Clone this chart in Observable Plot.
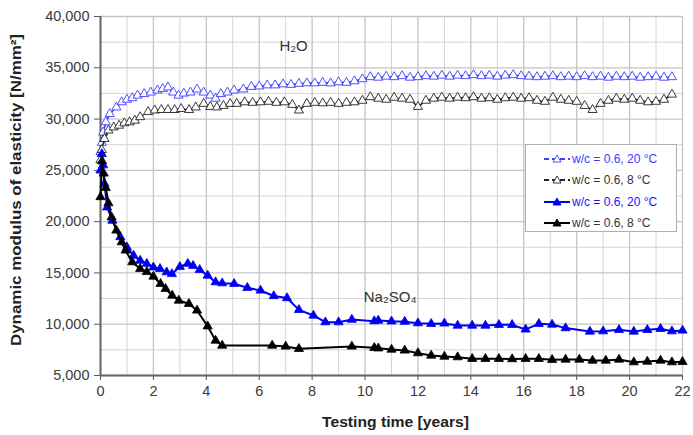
<!DOCTYPE html>
<html><head><meta charset="utf-8">
<script src="https://cdn.jsdelivr.net/npm/d3@7"></script>
<script src="https://cdn.jsdelivr.net/npm/@observablehq/plot@0.6"></script>
<style>
body{margin:0;background:#fff;font-family:"Liberation Sans",Arial,sans-serif;}
#wrap{position:relative;width:693px;height:435px;}
#legend{position:absolute;left:525px;top:144px;width:152px;height:88px;border:1px solid #b0b0b0;background:#fff;box-sizing:border-box;font-size:12px;padding-top:3px;}
.row{display:flex;align-items:center;height:21.5px;padding-left:17px;white-space:nowrap;}
.row svg{margin-right:1px;}
g[aria-label="x-axis label"] text, g[aria-label="y-axis label"] text{font-weight:bold;fill:#222;font-size:14px !important;}
</style></head>
<body><div id="wrap"></div>
<script>
// ---- data ----
const xTicks = [0,2,4,6,8,10,12,14,16,18,20,22];
const xMinor = [1,3,5,7,9,11,13,15,17,19,21];
const yTicks = [5000,10000,15000,20000,25000,30000,35000,40000];
const yMinor = [7500,12500,17500,22500,27500,32500,37500];

const seriesNames = ["H2O w/c = 0.6, 20 °C","H2O w/c = 0.6, 8 °C","Na2SO4 w/c = 0.6, 20 °C","Na2SO4 w/c = 0.6, 8 °C"];
const legendLabels = ["w/c = 0.6, 20 °C","w/c = 0.6, 8 °C","w/c = 0.6, 20 °C","w/c = 0.6, 8 °C"];

const h2o20_t = [0,0.05,0.1,0.2,0.35,0.6,0.8,1.0,1.2,1.4,1.65,1.9,2.15,2.35,2.55,2.75,2.95,3.15,3.4,3.65,3.9,4.15,4.35,4.55,4.8,5.05,5.4,5.7,6.0,6.3,6.6,6.9,7.2,7.5,7.8,8.1,8.4,8.7,9.0,9.3,9.6,9.9,10.2,10.5,10.8,11.1,11.4,11.7,12.0,12.3,12.6,12.9,13.2,13.5,13.8,14.1,14.4,14.7,15.0,15.3,15.6,15.9,16.2,16.5,16.8,17.1,17.4,17.7,18.0,18.3,18.6,18.9,19.2,19.5,19.8,20.1,20.4,20.7,21.0,21.3,21.6];
const h2o20_v = [26800,27700,28700,29700,30500,31150,31650,31900,32050,32300,32450,32600,32800,32950,33100,32600,32300,32500,32600,32900,32600,32300,32000,32450,32600,32800,32900,33150,33200,33300,33300,33400,33350,33450,33500,33500,33550,33500,33600,33550,33700,33900,34100,34050,34150,34100,34200,34050,34100,34200,34150,34250,34150,34250,34200,34300,34200,34250,34150,34250,34300,34200,34150,34100,34150,34200,34100,34150,34100,34200,34100,34150,34050,34150,34100,34150,34050,34100,34150,34050,34100];

const h2o8_t = [0,0.05,0.15,0.3,0.5,0.7,0.9,1.1,1.3,1.5,1.8,2.05,2.3,2.55,2.8,3.05,3.35,3.6,3.9,4.15,4.4,4.65,4.9,5.15,5.45,5.75,6.05,6.35,6.65,6.95,7.25,7.5,7.8,8.1,8.4,8.7,9.0,9.3,9.6,9.9,10.2,10.5,10.8,11.1,11.4,11.7,12.0,12.3,12.6,12.9,13.2,13.5,13.8,14.1,14.4,14.7,15.0,15.3,15.6,15.9,16.2,16.5,16.8,17.1,17.4,17.7,18.0,18.3,18.6,18.9,19.2,19.5,19.8,20.1,20.4,20.7,21.0,21.3,21.6];
const h2o8_v = [26000,27000,28070,28900,29200,29370,29600,29700,29860,30200,30700,30850,30900,30900,30900,31000,30900,31150,31500,31200,31150,31300,31500,31500,31650,31600,31650,31700,31600,31650,31400,30850,31500,31600,31550,31600,31500,31600,31650,31800,32150,32000,31900,32100,32000,31900,31200,31800,32000,32100,32000,32100,32050,32150,32000,32050,31900,32050,32100,32000,32050,31800,31700,32100,31900,31800,31700,31300,30900,31500,31800,32000,31900,32000,31800,31650,31700,31900,32400];

const na20_t = [0,0.05,0.1,0.15,0.25,0.45,0.75,1.0,1.25,1.5,1.75,2.0,2.25,2.5,2.7,3.0,3.3,3.5,3.75,4.05,4.35,4.6,5.05,5.55,6.05,6.55,7.05,7.5,8.05,8.5,9.0,9.5,10.35,10.5,11.0,11.5,12.0,12.5,13.0,13.5,14.05,14.55,15.06,15.56,16.07,16.57,17.07,17.58,18.5,19.0,19.6,20.16,20.67,21.17,21.6,22.0];
const na20_v = [25000,26600,25500,23700,21400,20100,18500,17500,16700,16200,15900,15550,15400,15070,14900,15600,15900,15700,15300,14750,14100,14000,13940,13550,13290,12750,12550,11400,10850,10200,10200,10450,10300,10360,10280,10250,10100,10040,10080,9870,9870,9870,9940,9940,9490,10040,9970,9620,9290,9320,9450,9290,9450,9550,9320,9390];

const na8_t = [0,0.06,0.12,0.2,0.3,0.42,0.6,0.8,0.95,1.2,1.5,1.75,2.0,2.27,2.46,2.71,2.96,3.34,3.65,4.05,4.35,4.6,6.49,7.0,7.5,9.5,10.35,10.5,11.0,11.5,12.0,12.5,13.0,13.5,14.05,14.55,15.06,15.56,16.07,16.57,17.07,17.58,18.1,18.6,19.1,19.6,20.16,20.67,21.17,21.6,22.0];
const na8_v = [22400,25900,24700,23300,21800,20430,19140,18000,17190,16050,15400,15100,14650,13940,13450,12800,12310,11990,11340,9800,8410,7920,7920,7830,7600,7830,7700,7650,7530,7440,7180,6950,6850,6790,6630,6630,6630,6600,6630,6630,6530,6560,6560,6460,6460,6560,6300,6360,6460,6300,6330];

const labelTexts = ["H₂O","Na₂SO₄"];
const labelT = [7.3, 10.95];
const labelV = [37100, 12600];

// ---- styles ----
const colors = ["#3c3cff","#222222","#0000f0","#000000"];
const dashes = ["5,3","5,3",null,null];
const openMarker = [true,true,false,false];

const tables = [[h2o20_t,h2o20_v],[h2o8_t,h2o8_v],[na20_t,na20_v],[na8_t,na8_v]]
  .map(([ts,vs]) => ts.map((t,i)=>({t, v: vs[i]})));

const seriesMarks = tables.flatMap((data,k)=>[
  Plot.line(data,{x:"t",y:"v",stroke:colors[k],strokeWidth: k<2?1.6:2,strokeDasharray:dashes[k]}),
  Plot.dot(data,{x:"t",y:"v",symbol:"triangle",r:3.4,
    fill: openMarker[k] ? "white" : colors[k],
    stroke: colors[k], strokeWidth: openMarker[k]?0.9:0.8})
]);

const labels = labelTexts.map((s,i)=>({s,t:labelT[i],v:labelV[i]}));

const chart = Plot.plot({
  width:693, height:435,
  marginLeft:100, marginRight:11, marginTop:16, marginBottom:60,
  style:{fontFamily:"'Liberation Sans', Arial, sans-serif", fontSize:"14px", color:"#3a3a3a", background:"#fff"},
  x:{domain:[0,22]},
  y:{domain:[5000,40000]},
  marks:[
    Plot.gridX(xMinor,{stroke:"#d4d4d4",strokeOpacity:1}),
    Plot.gridY(yMinor,{stroke:"#d4d4d4",strokeOpacity:1}),
    Plot.gridX(xTicks,{stroke:"#c4c4c4",strokeOpacity:1,strokeWidth:1.3}),
    Plot.gridY(yTicks,{stroke:"#c4c4c4",strokeOpacity:1,strokeWidth:1.3}),
    Plot.axisX(xTicks,{fontSize:14.5,tickSize:5,tickPadding:5,tickFormat:d=>String(d),label:"Testing time [years]",labelArrow:"none",labelAnchor:"center",labelOffset:51,stroke:"#555"}),
    Plot.axisY(yTicks,{fontSize:14.5,tickSize:6,tickPadding:5,tickFormat:d3.format(","),label:"Dynamic modulus of elasticity [N/mm²]",labelArrow:"none",labelAnchor:"center",labelOffset:89,stroke:"#555"}),
    Plot.ruleX([0],{stroke:"#666",strokeWidth:2}),
    Plot.ruleY([5000],{stroke:"#666",strokeWidth:2}),
    ...seriesMarks,
    Plot.text(labels,{x:"t",y:"v",text:"s",fontSize:15,fill:"#333"})
  ]
});
// strip any arrows the library may have added to the axis labels, and fit label lengths
chart.querySelectorAll('g[aria-label$="axis label"] text').forEach(el=>{
  el.textContent = el.textContent.replace(/\s*[↑→←↓]\s*/g,"").trim();
});
const yl = chart.querySelector('g[aria-label="y-axis label"] text');
if (yl) { yl.setAttribute("textLength","312"); yl.setAttribute("lengthAdjust","spacingAndGlyphs"); yl.setAttribute("dx","6"); }
const xl = chart.querySelector('g[aria-label="x-axis label"] text');
if (xl) { xl.setAttribute("textLength","147"); xl.setAttribute("lengthAdjust","spacingAndGlyphs"); xl.setAttribute("dx","4"); }
const wrap = document.getElementById("wrap");
wrap.appendChild(chart);

// legend
const leg = document.createElement("div");
leg.id = "legend";
legendLabels.forEach((lab,k)=>{
  const row = document.createElement("div");
  row.className = "row";
  row.style.color = k===0 ? "#3a3aff" : k===2 ? "#1414ff" : "#333";
  const fillTri = openMarker[k] ? "white" : colors[k];
  row.innerHTML = `<svg width="28" height="12"><line x1="1" y1="6" x2="27" y2="6" stroke="${colors[k]}" stroke-width="2" ${dashes[k]?`stroke-dasharray="${dashes[k]}"`:""}/><polygon points="14,2 18,9 10,9" fill="${fillTri}" stroke="${colors[k]}" stroke-width="0.9"/></svg><span>${lab}</span>`;
  leg.appendChild(row);
});
wrap.appendChild(leg);
</script></body></html>
